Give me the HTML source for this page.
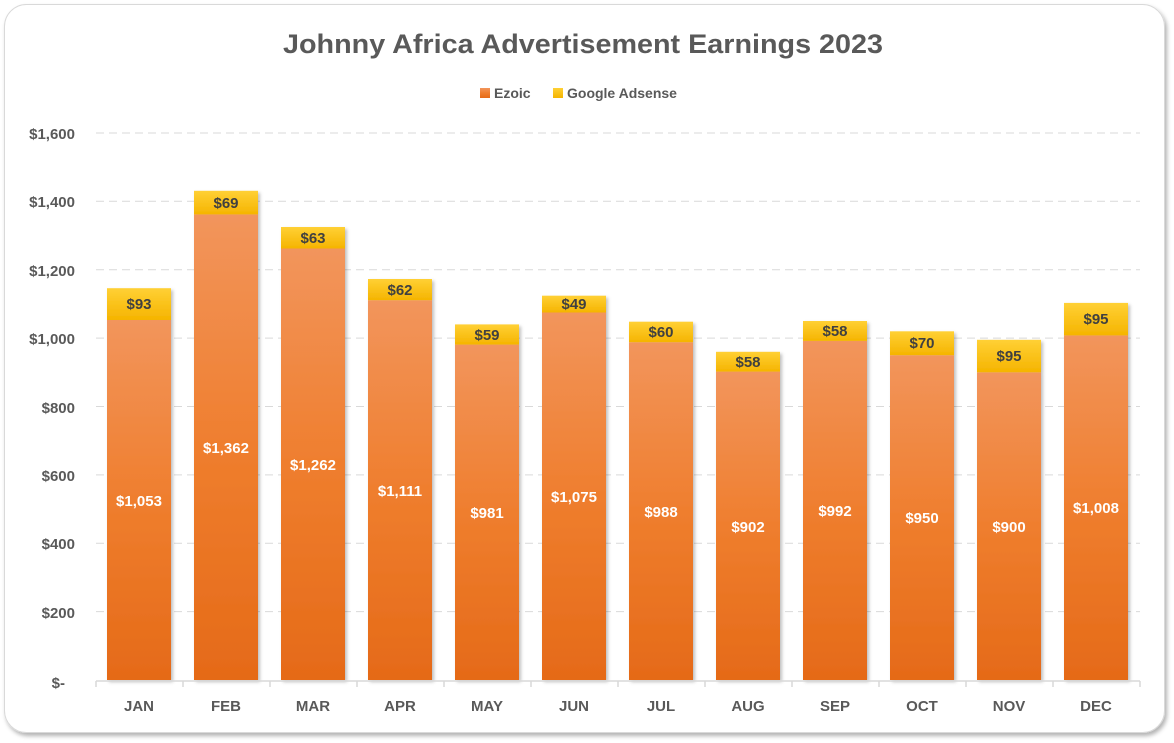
<!DOCTYPE html><html><head><style>body{margin:0;background:#fff}svg{display:block}text{font-family:"Liberation Sans",sans-serif;font-weight:bold}</style></head><body>
<svg width="1174" height="743" viewBox="0 0 1174 743" xmlns="http://www.w3.org/2000/svg">
<defs>
<linearGradient id="ez" x1="0" y1="0" x2="0" y2="1"><stop offset="0" stop-color="#f2955c"/><stop offset="0.5" stop-color="#ef7e2e"/><stop offset="1" stop-color="#e56a18"/></linearGradient>
<linearGradient id="ad" x1="0" y1="0" x2="0" y2="1"><stop offset="0" stop-color="#ffd035"/><stop offset="1" stop-color="#f5b400"/></linearGradient>
<filter id="sh" x="-10%" y="-10%" width="130%" height="130%"><feDropShadow dx="2" dy="2" stdDeviation="1.5" flood-color="#000" flood-opacity="0.25"/></filter>
<filter id="cs" x="-5%" y="-5%" width="110%" height="110%"><feDropShadow dx="2" dy="3" stdDeviation="2" flood-color="#000" flood-opacity="0.3"/></filter>
</defs>
<rect x="4.5" y="4.5" width="1160" height="728" rx="22" fill="#fff" stroke="#d9d9d9" filter="url(#cs)"/>
<text x="583" y="53" text-anchor="middle" font-size="27" fill="#595959" textLength="600" lengthAdjust="spacingAndGlyphs">Johnny Africa Advertisement Earnings 2023</text>
<rect x="480" y="88" width="10" height="10" fill="url(#ez)"/><text x="494" y="98" font-size="14" fill="#595959">Ezoic</text>
<rect x="553" y="88" width="10" height="10" fill="url(#ad)"/><text x="567" y="98" font-size="14" fill="#595959">Google Adsense</text>
<g stroke="#d9d9d9" stroke-width="1" stroke-dasharray="8,5">
<line x1="96" x2="1140" y1="133" y2="133"/><line x1="96" x2="1140" y1="201.3" y2="201.3"/><line x1="96" x2="1140" y1="269.7" y2="269.7"/><line x1="96" x2="1140" y1="338.1" y2="338.1"/><line x1="96" x2="1140" y1="406.5" y2="406.5"/><line x1="96" x2="1140" y1="474.9" y2="474.9"/><line x1="96" x2="1140" y1="543.2" y2="543.2"/><line x1="96" x2="1140" y1="611.6" y2="611.6"/>
</g>
<g font-size="15" fill="#595959" text-anchor="end">
<text x="75" y="139">$1,600</text><text x="75" y="207">$1,400</text><text x="75" y="276">$1,200</text><text x="75" y="344">$1,000</text><text x="75" y="413">$800</text><text x="75" y="481">$600</text><text x="75" y="549">$400</text><text x="75" y="618">$200</text><text x="65" y="688">$-</text>
</g>
<g filter="url(#sh)">
<rect x="107" y="320" width="64" height="360" fill="url(#ez)"/><rect x="107" y="288.2" width="64" height="31.8" fill="url(#ad)"/>
<rect x="194" y="214.4" width="64" height="465.6" fill="url(#ez)"/><rect x="194" y="190.8" width="64" height="23.6" fill="url(#ad)"/>
<rect x="281" y="248.5" width="64" height="431.5" fill="url(#ez)"/><rect x="281" y="227" width="64" height="21.5" fill="url(#ad)"/>
<rect x="368" y="300.2" width="64" height="379.8" fill="url(#ez)"/><rect x="368" y="279" width="64" height="21.2" fill="url(#ad)"/>
<rect x="455" y="344.6" width="64" height="335.4" fill="url(#ez)"/><rect x="455" y="324.4" width="64" height="20.2" fill="url(#ad)"/>
<rect x="542" y="312.5" width="64" height="367.5" fill="url(#ez)"/><rect x="542" y="295.7" width="64" height="16.8" fill="url(#ad)"/>
<rect x="629" y="342.2" width="64" height="337.8" fill="url(#ez)"/><rect x="629" y="321.7" width="64" height="20.5" fill="url(#ad)"/>
<rect x="716" y="371.6" width="64" height="308.4" fill="url(#ez)"/><rect x="716" y="351.8" width="64" height="19.8" fill="url(#ad)"/>
<rect x="803" y="340.9" width="64" height="339.1" fill="url(#ez)"/><rect x="803" y="321" width="64" height="19.9" fill="url(#ad)"/>
<rect x="890" y="355.2" width="64" height="324.8" fill="url(#ez)"/><rect x="890" y="331.3" width="64" height="23.9" fill="url(#ad)"/>
<rect x="977" y="372.3" width="64" height="307.7" fill="url(#ez)"/><rect x="977" y="339.8" width="64" height="32.5" fill="url(#ad)"/>
<rect x="1064" y="335.4" width="64" height="344.6" fill="url(#ez)"/><rect x="1064" y="302.9" width="64" height="32.5" fill="url(#ad)"/>
</g>
<g stroke="#d9d9d9" stroke-width="1.5">
<line x1="96" x2="1140" y1="681" y2="681"/>
<line x1="96" x2="96" y1="681" y2="687"/><line x1="183" x2="183" y1="681" y2="687"/><line x1="270" x2="270" y1="681" y2="687"/><line x1="357" x2="357" y1="681" y2="687"/><line x1="444" x2="444" y1="681" y2="687"/><line x1="531" x2="531" y1="681" y2="687"/><line x1="618" x2="618" y1="681" y2="687"/><line x1="705" x2="705" y1="681" y2="687"/><line x1="792" x2="792" y1="681" y2="687"/><line x1="879" x2="879" y1="681" y2="687"/><line x1="966" x2="966" y1="681" y2="687"/><line x1="1053" x2="1053" y1="681" y2="687"/><line x1="1140" x2="1140" y1="681" y2="687"/>
</g>
<g font-size="15" fill="#595959" text-anchor="middle">
<text x="139" y="711">JAN</text><text x="226" y="711">FEB</text><text x="313" y="711">MAR</text><text x="400" y="711">APR</text><text x="487" y="711">MAY</text><text x="574" y="711">JUN</text><text x="661" y="711">JUL</text><text x="748" y="711">AUG</text><text x="835" y="711">SEP</text><text x="922" y="711">OCT</text><text x="1009" y="711">NOV</text><text x="1096" y="711">DEC</text>
</g>
<g font-size="15" fill="#fff" text-anchor="middle">
<text x="139" y="506">$1,053</text><text x="226" y="453">$1,362</text><text x="313" y="470">$1,262</text><text x="400" y="496">$1,111</text><text x="487" y="518">$981</text><text x="574" y="502">$1,075</text><text x="661" y="517">$988</text><text x="748" y="532">$902</text><text x="835" y="516">$992</text><text x="922" y="523">$950</text><text x="1009" y="532">$900</text><text x="1096" y="513">$1,008</text>
</g>
<g font-size="15" fill="#404040" text-anchor="middle">
<text x="139" y="309">$93</text><text x="226" y="208">$69</text><text x="313" y="243">$63</text><text x="400" y="295">$62</text><text x="487" y="340">$59</text><text x="574" y="309">$49</text><text x="661" y="337">$60</text><text x="748" y="367">$58</text><text x="835" y="336">$58</text><text x="922" y="348">$70</text><text x="1009" y="361">$95</text><text x="1096" y="324">$95</text>
</g>
</svg>
</body></html>
